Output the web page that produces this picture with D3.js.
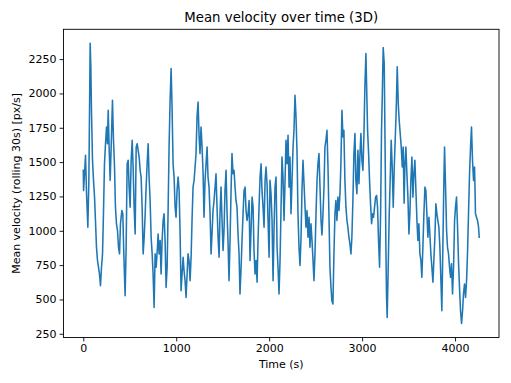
<!DOCTYPE html>
<html><head><meta charset="utf-8">
<script src="https://cdn.jsdelivr.net/npm/d3@7"></script>
<style>body{margin:0;background:#fff}svg{display:block}text{font-family:"DejaVu Sans",sans-serif;fill:#000}</style>
</head><body>
<svg id="c" width="511" height="383"></svg>
<script>
const title = "Mean velocity over time (3D)";
const xLabel = "Time (s)";
const yLabel = "Mean velocity (rolling 30s) [px/s]";
const xTicks = [0, 1000, 2000, 3000, 4000];
const yTicks = [250, 500, 750, 1000, 1250, 1500, 1750, 2000, 2250];
const times = [0,3,13,24,35,49,60,74,81,88,99,110,121,131,142,153,164,174,185,196,207,217,228,239,250,260,268,278,289,300,314,325,336,346,357,368,379,390,400,415,425,436,450,461,472,483,493,504,515,526,536,547,558,569,580,590,601,612,622,633,644,655,666,676,687,698,708,719,730,741,751,762,773,784,798,
805,816,827,837,848,859,869,880,891,902,912,923,934,945,955,966,977,988,998,1009,1020,1031,1041,1052,1063,1074,1084,1095,1106,1117,1127,1138,1149,1160,1170,1181,1192,1203,1213,1224,1235,1246,1256,1267,1278,1289,1299,1310,1321,1332,1342,1353,1364,1375,1385,1396,1407,1418,1428,1439,1450,1461,1471,1482,1493,1504,1514,1525,1536,1547,1557,1568,1579,1590,1600,1611,1622,1633,1643,1654,1665,1676,1686,
1698,1708,1719,1730,1741,1751,1762,1773,1784,1794,1805,1816,1827,1837,1848,1859,1870,1880,1891,1902,1913,1923,1934,1945,1956,1966,1977,1988,1999,2009,2020,2031,2042,2052,2063,2074,2085,2095,2106,2117,2128,2138,2149,2160,2171,2181,2192,2203,2214,2224,2235,2246,2257,2267,2278,2289,2300,2310,2321,2332,2343,2353,2364,2375,2386,2396,2407,2418,2429,2439,2450,2461,2472,2482,2493,2504,2515,2525,2536,2547,2558,2568,
2579,2590,2600,2611,2622,2633,2643,2654,2665,2675,2686,2697,2708,2718,2729,2740,2751,2762,2772,2783,2794,2804,2815,2826,2837,2847,2858,2869,2880,2890,2901,2912,2923,2933,2944,2955,2966,2976,2987,2998,3009,3020,3030,3041,3052,3059,3070,3080,3091,3102,3113,3123,3134,3145,3156,3166,3177,3188,3199,3209,3217,3227,3238,3249,3256,3263,3270,3281,3292,3303,3313,3324,3335,3346,3356,3367,3378,3389,3399,3410,3421,3432,3442,
3452,3461,3471,3482,3493,3504,3514,3525,3536,3547,3557,3568,3579,3590,3600,3611,3622,3633,3643,3654,3665,3676,3686,3697,3708,3719,3729,3740,3751,3762,3772,3783,3794,3805,3815,3826,3837,3848,3858,3869,3880,3887,3898,3909,3919,3930,3941,3952,3962,3973,3984,3995,4005,4016,4027,4038,4048,4059,4070,4081,4091,4102,4113,4124,4134,4145,4156,4167,4177,4188,4199,4210,4220,4231,4242,4253,4260];
const velocity = [1440,1294,1415,1549,1270,1026,1367,2365,2200,1878,1513,1367,1245,1075,880,783,734,686,600,734,832,1124,1488,1634,1756,1634,1878,1610,1367,1610,1951,1659,1464,1172,1051,1002,880,832,1051,1148,1124,832,527,880,1488,1513,1318,1172,1513,1659,1464,1172,977,1610,1634,1586,1537,1440,1391,1172,832,953,1124,1318,1488,1634,1391,1221,953,832,686,442,832,734,880,
977,832,929,686,929,1075,1124,929,588,734,1124,1610,1951,2182,1902,1488,1391,1172,1099,1294,1391,1294,1002,564,686,807,710,637,515,686,832,783,637,807,1075,1318,1367,1464,1562,1829,1938,1683,1562,1756,1610,1415,1099,1367,1488,1610,1391,1318,1124,832,977,1148,1221,1318,1415,1172,953,807,1124,1318,1075,856,1002,1294,1440,1124,929,637,929,1294,1562,1415,1440,1318,1221,1172,977,832,540,
734,929,1124,1294,1318,1148,1075,1124,1221,783,1002,1245,1172,856,686,783,625,929,1172,1391,1488,1294,1172,1026,1367,1464,1342,1075,807,1367,1270,1075,637,1002,1318,1391,880,734,540,783,1172,1537,1391,1075,1367,1659,1488,1695,1318,1537,1124,1367,1610,1732,1987,1829,1562,1124,880,747,953,1294,1513,1342,1172,1026,1148,953,1099,880,1051,929,783,637,832,1124,1367,1488,1562,1318,1075,970,
1124,1318,1610,1659,1732,1464,1124,734,588,491,467,832,1124,1221,1075,1245,1148,1270,1488,1878,1683,1732,1367,1172,1075,1026,953,905,832,953,1221,1562,1708,1367,1270,1586,1342,1537,1708,1513,1440,1708,2050,2290,1950,1732,1562,1367,1197,1051,1124,1099,1172,1245,1257,1172,929,734,1124,1732,1975,2335,2218,1488,880,515,369,734,1124,1391,1659,1464,1172,1464,1659,1878,2194,1926,1805,1708,1610,1464,1610,
1200,1488,1610,1415,1245,977,1124,1367,1537,1245,1415,1513,1294,1075,929,1051,832,783,661,880,1124,1318,1294,1124,953,1099,977,832,734,625,783,953,1197,1124,1075,1026,880,637,418,880,1367,1610,1318,1002,880,832,734,661,759,540,734,1075,1172,1245,1026,759,588,418,325,418,540,613,515,637,832,1124,1415,1610,1756,1513,1367,1464,1124,1099,1075,1026,953];

const W = 511, H = 383;
const m = {left: 63.5, right: 499, top: 29.3, bottom: 337.5};
const svg = d3.select("#c");
const data = times.map((t, i) => ({t, v: velocity[i]}));
const xe = d3.extent(times), ye = d3.extent(velocity);
const xp = (xe[1] - xe[0]) * 0.05, yp = (ye[1] - ye[0]) * 0.05;
const x = d3.scaleLinear().domain([xe[0] - xp, xe[1] + xp]).range([m.left, m.right]);
const y = d3.scaleLinear().domain([ye[0] - yp, ye[1] + yp]).range([m.bottom, m.top]);

svg.append("rect").attr("width", W).attr("height", H).attr("fill", "#fff");

svg.append("path").datum(data)
  .attr("fill", "none").attr("stroke", "#1f77b4").attr("stroke-width", 1.55)
  .attr("stroke-linejoin", "round").attr("stroke-linecap", "square")
  .attr("d", d3.line().x(d => x(d.t)).y(d => y(d.v)));

const xa = svg.append("g").attr("transform", `translate(0,${m.bottom})`)
  .call(d3.axisBottom(x).tickValues(xTicks).tickFormat(d3.format("d")).tickSize(3.9).tickPadding(3));
const ya = svg.append("g").attr("transform", `translate(${m.left},0)`)
  .call(d3.axisLeft(y).tickValues(yTicks).tickFormat(d3.format("d")).tickSize(3.9).tickPadding(3));
[xa, ya].forEach(a => {
  a.select(".domain").remove();
  a.selectAll("line").attr("stroke", "#000").attr("stroke-width", 0.9);
  a.selectAll("text").attr("font-size", 11).attr("font-family", "DejaVu Sans").attr("fill", "#000");
});

svg.append("rect").attr("x", m.left).attr("y", m.top)
  .attr("width", m.right - m.left).attr("height", m.bottom - m.top)
  .attr("fill", "none").attr("stroke", "#000").attr("stroke-width", 0.9);

svg.append("text").attr("x", (m.left + m.right) / 2).attr("y", 22)
  .attr("text-anchor", "middle").attr("font-size", 13.3).text(title);
svg.append("text").attr("x", (m.left + m.right) / 2).attr("y", 368)
  .attr("text-anchor", "middle").attr("font-size", 11).text(xLabel);
svg.append("text").attr("transform", `translate(20,${(m.top + m.bottom) / 2}) rotate(-90)`)
  .attr("text-anchor", "middle").attr("font-size", 11).text(yLabel);
</script>
</body></html>
